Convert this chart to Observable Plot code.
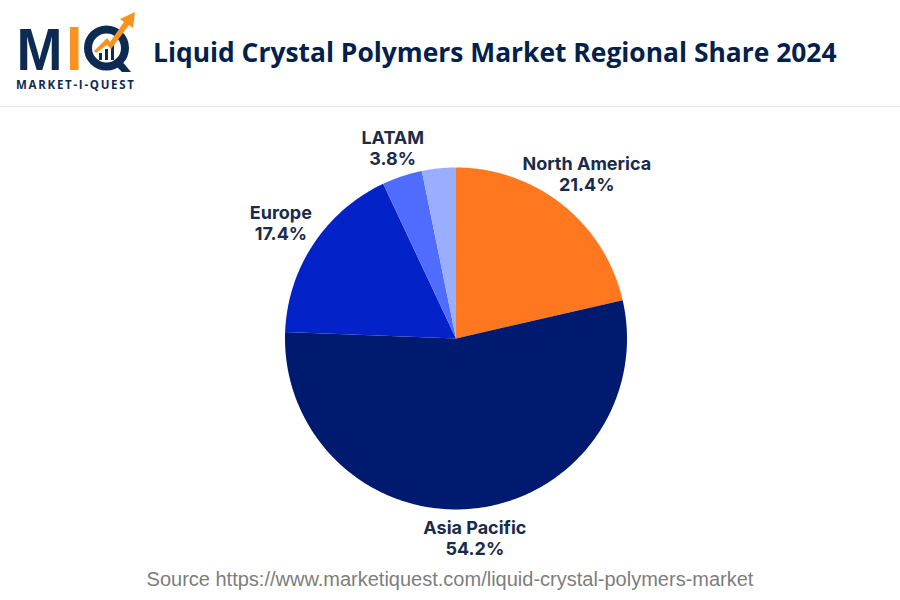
<!DOCTYPE html>
<html>
<head>
<meta charset="utf-8">
<script src="https://cdn.jsdelivr.net/npm/d3@7"></script>
<script src="https://cdn.jsdelivr.net/npm/@observablehq/plot@0.6"></script>
<style>
  html, body { margin: 0; padding: 0; background: #fff; width: 900px; height: 600px; overflow: hidden; }
  #page { position: relative; width: 900px; height: 600px; }
  #logo { position: absolute; left: 0; top: 0; }
  #title { position: absolute; left: 153px; top: 33px; margin: 0; white-space: nowrap;
           font: 700 26.4px/38px "Open Sans", sans-serif; color: #03214a; }
  #rule { position: absolute; left: 0; top: 106px; width: 900px; height: 1px; background: #e4e4e4; }
  #chart { position: absolute; left: 0; top: 107px; }
  #chart svg { display: block; }
  #source { position: absolute; left: 0; top: 566px; width: 900px; text-align: center; margin: 0;
            font: 400 20px/26px "Liberation Sans", sans-serif; color: #7d7d7d; }
</style>
</head>
<body>
<div id="page">
  <svg id="logo" width="150" height="100" viewBox="0 0 150 100">
    <text x="16.5" y="70" font-family="Liberation Sans" font-weight="700" font-size="60" fill="#0d2b52" textLength="46" lengthAdjust="spacingAndGlyphs">M</text>
    <rect x="70" y="27" width="8.5" height="43" fill="#f7931e"/>
    <circle cx="106.5" cy="48" r="18.5" fill="none" stroke="#0d2b52" stroke-width="8"/>
    <path d="M113 63 L122 72 L131 72 L120 59 Z" fill="#0d2b52"/>
    <rect x="99" y="53" width="3" height="7" fill="#0d2b52"/>
    <rect x="105" y="49" width="3" height="11" fill="#0d2b52"/>
    <rect x="111" y="45" width="3" height="15" fill="#0d2b52"/>
    <path d="M94 51 L107 38 L110 42 L124 22 L120 19 L135 12 L133 28 L129 25 L111 49 L107 45 L96 53 Z" fill="#f7931e"/>
    <text x="16" y="89" font-family="Open Sans" font-weight="700" font-size="11.5" fill="#0d2b52" textLength="118" lengthAdjust="spacing">MARKET-I-QUEST</text>
  </svg>
  <h1 id="title">Liquid Crystal Polymers Market Regional Share 2024</h1>
  <div id="rule"></div>
  <div id="chart"></div>
  <p id="source">Source https://www.marketiquest.com/liquid-crystal-polymers-market</p>
</div>
<script>
const regions = ["North America", "Asia Pacific", "Europe", "LATAM", "Other"];
const shares = [21.4, 54.2, 17.4, 3.8, 3.2];
const shareLabels = ["21.4%", "54.2%", "17.4%", "3.8%", ""];
const sliceColors = ["#ff7820", "#001a70", "#0323c8", "#4f6cff", "#9aaeff"];
const labelRadii = [1.228, 1.17, 1.228, 1.175, 0];

const cumulative = d3.cumsum(shares);
const slices = regions.map((region, i) => ({
  region,
  start: i ? cumulative[i - 1] : 0,
  end: cumulative[i],
  mid: (i ? cumulative[i - 1] : 0) + shares[i] / 2
}));
const polar = (pct, r) => {
  const a = (pct / 100) * 2 * Math.PI;
  return { x: r * Math.sin(a), y: r * Math.cos(a) };
};
// Each wedge is a closed outline through the centre, traced in Plot data space.
const outline = slices.flatMap((s) => {
  const steps = Math.max(2, Math.ceil((s.end - s.start) * 4));
  const rim = d3.range(steps + 1).map((k) => polar(s.start + ((s.end - s.start) * k) / steps, 1));
  return [{ x: 0, y: 0 }, ...rim, { x: 0, y: 0 }].map((p) => ({ ...p, region: s.region }));
});
const labels = slices
  .map((s, i) => ({
    ...polar(s.mid, labelRadii[i]),
    text: `${s.region}\n${shareLabels[i]}`,
    shown: shareLabels[i] !== ""
  }))
  .filter((d) => d.shown);

const W = 900, H = 460, R = 171, cx = 455.5, cy = 231;
const chart = Plot.plot({
  width: W,
  height: H,
  margin: 0,
  x: { domain: [-cx / R, (W - cx) / R], axis: null },
  y: { domain: [-(H - cy) / R, cy / R], axis: null },
  color: { domain: regions, range: sliceColors },
  marks: [
    Plot.line(outline, { x: "x", y: "y", z: "region", fill: "region", stroke: null, curve: "linear" }),
    Plot.text(labels, {
      x: "x",
      y: "y",
      text: "text",
      fontFamily: "Inter",
      fontWeight: 700,
      fontSize: 18,
      lineHeight: 1.17,
      fill: "#1a2b4a"
    })
  ]
});
document.getElementById("chart").appendChild(chart);
</script>
</body>
</html>
